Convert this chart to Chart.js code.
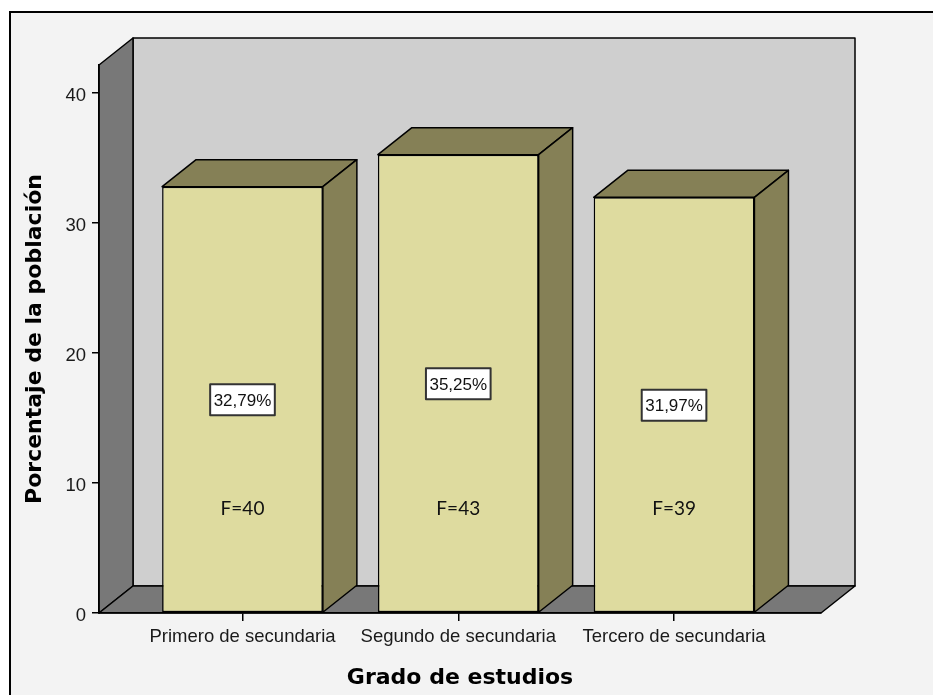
<!DOCTYPE html>
<html>
<head>
<meta charset="utf-8">
<title>Grado de estudios</title>
<script src="https://cdn.jsdelivr.net/npm/chart.js@4"></script>
<style>
  html, body { margin: 0; padding: 0; background: #fff; overflow: hidden; }
  canvas { display: block; }
</style>
</head>
<body>
<canvas id="grado-chart" width="933" height="695"></canvas>
<script>
const categorias = ['Primero de secundaria', 'Segundo de secundaria', 'Tercero de secundaria'];
const porcentajes = [32.79, 35.25, 31.97];
const frecuencias = [40, 43, 39];
const yTicks = [0, 10, 20, 30, 40];
const yMax = 42.15;

// profundidad del efecto 3D
const DX = 34, DY = -27;
const FRENTE = '#dedb9f';
const LADO = '#858056';
const PARED = '#cfcfcf';
const PARED_OSCURA = '#787878';

function poligono(ctx, puntos, relleno) {
    ctx.beginPath();
    ctx.moveTo(puntos[0][0], puntos[0][1]);
    for (let i = 1; i < puntos.length; i++) ctx.lineTo(puntos[i][0], puntos[i][1]);
    ctx.closePath();
    ctx.fillStyle = relleno;
    ctx.fill();
    ctx.stroke();
}

const cuadro3d = {
    id: 'cuadro3d',
    beforeDraw(chart) {
        const { ctx, chartArea: a, width, height } = chart;
        ctx.save();
        ctx.fillStyle = '#fff';
        ctx.fillRect(0, 0, width, height);
        ctx.fillStyle = '#f3f3f3';
        ctx.fillRect(10, 12, width, height);
        ctx.strokeStyle = '#000';
        ctx.lineWidth = 2;
        ctx.beginPath();
        ctx.moveTo(10, height);
        ctx.lineTo(10, 12);
        ctx.lineTo(width, 12);
        ctx.stroke();

        ctx.lineWidth = 1.5;
        ctx.lineJoin = 'round';
        // pared del fondo
        poligono(ctx, [[a.left + DX, a.top + DY], [a.right + DX, a.top + DY],
            [a.right + DX, a.bottom + DY], [a.left + DX, a.bottom + DY]], PARED);
        // pared izquierda
        poligono(ctx, [[a.left, a.top], [a.left + DX, a.top + DY],
            [a.left + DX, a.bottom + DY], [a.left, a.bottom]], PARED_OSCURA);
        // piso
        poligono(ctx, [[a.left, a.bottom], [a.left + DX, a.bottom + DY],
            [a.right + DX, a.bottom + DY], [a.right, a.bottom]], PARED_OSCURA);
        ctx.restore();
    },
    afterDatasetsDraw(chart) {
        const { ctx } = chart;
        const yScale = chart.scales.y;
        const meta = chart.getDatasetMeta(0);
        ctx.save();
        ctx.lineJoin = 'round';
        meta.data.forEach((bar, i) => {
            const { x, y, base, width } = bar.getProps(['x', 'y', 'base', 'width'], true);
            const izq = x - width / 2, der = x + width / 2;
            // cara superior y lateral
            ctx.strokeStyle = '#000';
            ctx.lineWidth = 1.5;
            poligono(ctx, [[izq, y], [izq + DX, y + DY], [der + DX, y + DY], [der, y]], LADO);
            poligono(ctx, [[der, y], [der + DX, y + DY], [der + DX, base + DY], [der, base]], LADO);

            // etiqueta de porcentaje
            const texto = porcentajes[i].toFixed(2).replace('.', ',') + '%';
            ctx.font = '17px "Liberation Sans", Arial, sans-serif';
            const ancho = ctx.measureText(texto).width + 7;
            const cy = yScale.getPixelForValue(porcentajes[i] / 2);
            ctx.fillStyle = '#fff';
            ctx.strokeStyle = '#333';
            ctx.lineWidth = 2;
            ctx.fillRect(x - ancho / 2, cy - 15.5, ancho, 31);
            ctx.strokeRect(x - ancho / 2, cy - 15.5, ancho, 31);
            ctx.fillStyle = '#111';
            ctx.textAlign = 'center';
            ctx.textBaseline = 'middle';
            ctx.fillText(texto, x, cy + 1);

            // frecuencia
            ctx.font = '19px Lato, "Open Sans", sans-serif';
            ctx.fillText('F=' + frecuencias[i], x, yScale.getPixelForValue(8));
        });
        ctx.restore();
    }
};

const ctx = document.getElementById('grado-chart').getContext('2d');

const gradoChart = new Chart(ctx, {
    type: 'bar',
    data: {
        datasets: [{
            label: 'Porcentaje',
            data: porcentajes.map((v, i) => ({ x: i, y: v })),
            backgroundColor: FRENTE,
            borderColor: '#000',
            borderWidth: 1.5,
            borderSkipped: false,
            barPercentage: 0.745,
            categoryPercentage: 1
        }]
    },
    options: {
        responsive: false,
        animation: false,
        devicePixelRatio: 1,
        layout: { padding: { left: 0, top: 65, right: 112, bottom: 0 } },
        plugins: {
            legend: { display: false },
            tooltip: { enabled: false }
        },
        scales: {
            x: {
                type: 'linear',
                offset: false,
                min: -0.665,
                max: 2.681,
                afterBuildTicks: scale => {
                    scale.ticks = categorias.map((c, i) => ({ value: i }));
                },
                afterFit: scale => { scale.height = 82; },
                ticks: {
                    callback: value => categorias[value],
                    autoSkip: false,
                    maxRotation: 0,
                    padding: 5,
                    color: '#1a1a1a',
                    font: { family: '"Liberation Sans", Arial, sans-serif', size: 18.5 }
                },
                grid: { offset: false, drawOnChartArea: false, tickLength: 8, color: '#000', lineWidth: 1.5 },
                border: { display: true, color: '#000', width: 1.5 },
                title: {
                    display: true,
                    text: 'Grado de estudios',
                    color: '#000',
                    padding: { top: 0, bottom: 4 },
                    font: { family: '"DejaVu Sans", sans-serif', size: 22, weight: 'bold' }
                }
            },
            y: {
                min: 0,
                max: yMax,
                afterBuildTicks: scale => {
                    scale.ticks = yTicks.map(v => ({ value: v }));
                },
                afterFit: scale => { scale.width = 99; },
                ticks: {
                    padding: 6,
                    labelOffset: 3,
                    color: '#1a1a1a',
                    font: { family: '"Liberation Sans", Arial, sans-serif', size: 18.5 }
                },
                grid: { drawOnChartArea: false, tickLength: 7, color: '#000', lineWidth: 1.5 },
                border: { display: true, color: '#000', width: 1.5 },
                title: {
                    display: true,
                    text: 'Porcentaje de la población',
                    color: '#000',
                    padding: { top: 22, bottom: 0 },
                    font: { family: '"DejaVu Sans", sans-serif', size: 22, weight: 'bold' }
                }
            }
        }
    },
    plugins: [cuadro3d]
});
</script>
</body>
</html>
